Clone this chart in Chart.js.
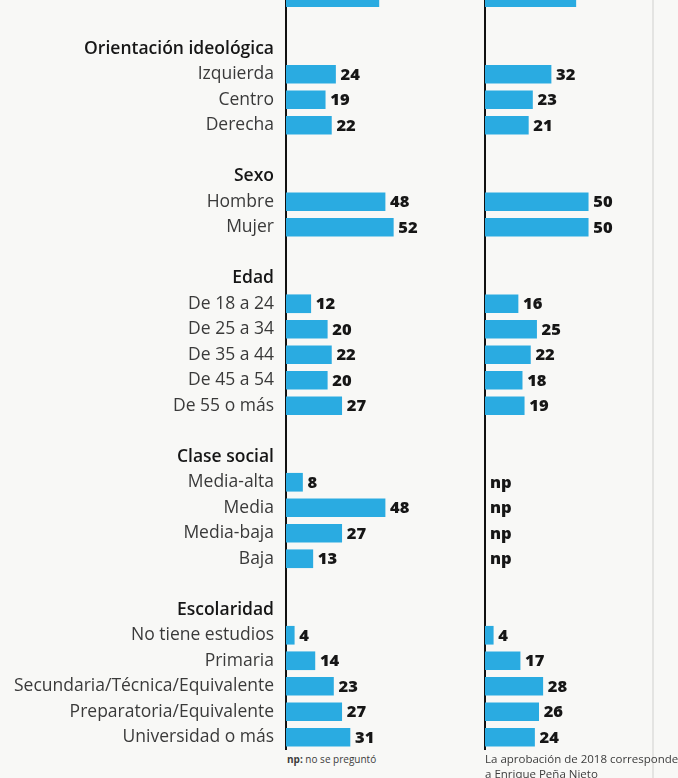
<!DOCTYPE html>
<html>
<head>
<meta charset="utf-8">
<script src="https://cdn.jsdelivr.net/npm/chart.js@4"></script>
<style>
    body { margin: 0; background: #f8f8f6; width: 678px; height: 778px; overflow: hidden; position: relative; font-family: "Open Sans", sans-serif; }
    .panel { position: absolute; top: -15px; height: 765px; }
    #left { left: 0; width: 480px; }
    #right { left: 470px; width: 208px; }
    .rule { position: absolute; left: 652px; top: 0; width: 2px; height: 778px; background: #e4e4e2; }
    .note { position: absolute; color: #3c3c3c; white-space: nowrap; }
</style>
</head>
<body>
<div class="rule"></div>
<div class="panel" id="left"><canvas id="actual"></canvas></div>
<div class="panel" id="right"><canvas id="previa"></canvas></div>
<div class="note" style="left:287px; top:752px; font-size:10px;"><b>np:</b> no se preguntó</div>
<div class="note" style="left:485px; top:751px; font-size:11.5px; line-height:15px;">La aprobación de 2018 corresponde<br>a Enrique Peña Nieto</div>
<script>
// first row is the cut-off end of the previous section
const rows = ['', '', 'Orientación ideológica', 'Izquierda', 'Centro', 'Derecha', '',
    'Sexo', 'Hombre', 'Mujer', '',
    'Edad', 'De 18 a 24', 'De 25 a 34', 'De 35 a 44', 'De 45 a 54', 'De 55 o más', '',
    'Clase social', 'Media-alta', 'Media', 'Media-baja', 'Baja', '',
    'Escolaridad', 'No tiene estudios', 'Primaria', 'Secundaria/Técnica/Equivalente',
    'Preparatoria/Equivalente', 'Universidad o más'];
const headers = ['Orientación ideológica', 'Sexo', 'Edad', 'Clase social', 'Escolaridad'];

const actual = [45, null, null, 24, 19, 22, null,
    null, 48, 52, null,
    null, 12, 20, 22, 20, 27, null,
    null, 8, 48, 27, 13, null,
    null, 4, 14, 23, 27, 31];
// 2018, np = no se preguntó
const previa = [44, null, null, 32, 23, 21, null,
    null, 50, 50, null,
    null, 16, 25, 22, 18, 19, null,
    null, null, null, null, null, null,
    null, 4, 17, 28, 26, 24];

const barColor = '#2aabe1';

const valueLabels = {
    id: 'valueLabels',
    afterDatasetsDraw(chart) {
        const ctx = chart.ctx;
        const x = chart.scales.x, y = chart.scales.y;
        const values = chart.data.datasets[0].data;
        ctx.save();
        ctx.font = '800 16.5px "Open Sans"';
        ctx.fillStyle = '#161616';
        ctx.textBaseline = 'middle';
        rows.forEach(function(row, i) {
            if (!row || headers.includes(row)) return;
            const v = values[i];
            ctx.fillText(v == null ? 'np' : v, x.getPixelForValue(v == null ? 0 : v) + 5, y.getPixelForValue(i) + 1);
        });
        ctx.restore();
    }
};

function makeChart(id, values, axisWidth, xMax, showLabels) {
    new Chart(document.getElementById(id), {
        type: 'bar',
        data: {
            labels: rows,
            datasets: [{
                data: values,
                backgroundColor: barColor,
                borderWidth: 0,
                barThickness: 18
            }]
        },
        options: {
            indexAxis: 'y',
            responsive: true,
            maintainAspectRatio: false,
            animation: false,
            layout: { padding: 0 },
            plugins: {
                legend: { display: false },
                tooltip: { enabled: false }
            },
            scales: {
                x: {
                    display: false,
                    min: 0,
                    max: xMax
                },
                y: {
                    grid: { display: false, drawTicks: false },
                    border: { display: true, color: '#111', width: 2 },
                    ticks: {
                        display: showLabels,
                        autoSkip: false,
                        padding: 12,
                        color: function(c) {
                            return headers.includes(rows[c.index]) ? '#161616' : '#3a3a3a';
                        },
                        font: function(c) {
                            const isHead = headers.includes(rows[c.index]);
                            return { family: '"Open Sans"', size: 17.5, weight: isHead ? '600' : '400' };
                        }
                    },
                    afterFit: function(scale) {
                        scale.width = axisWidth;
                        scale.paddingTop = 0;
                        scale.paddingBottom = 0;
                    }
                }
            }
        },
        plugins: [valueLabels]
    });
}

makeChart('actual', actual, 286, 94, true);
makeChart('previa', previa, 15, 93.5, false);
</script>
</body>
</html>
